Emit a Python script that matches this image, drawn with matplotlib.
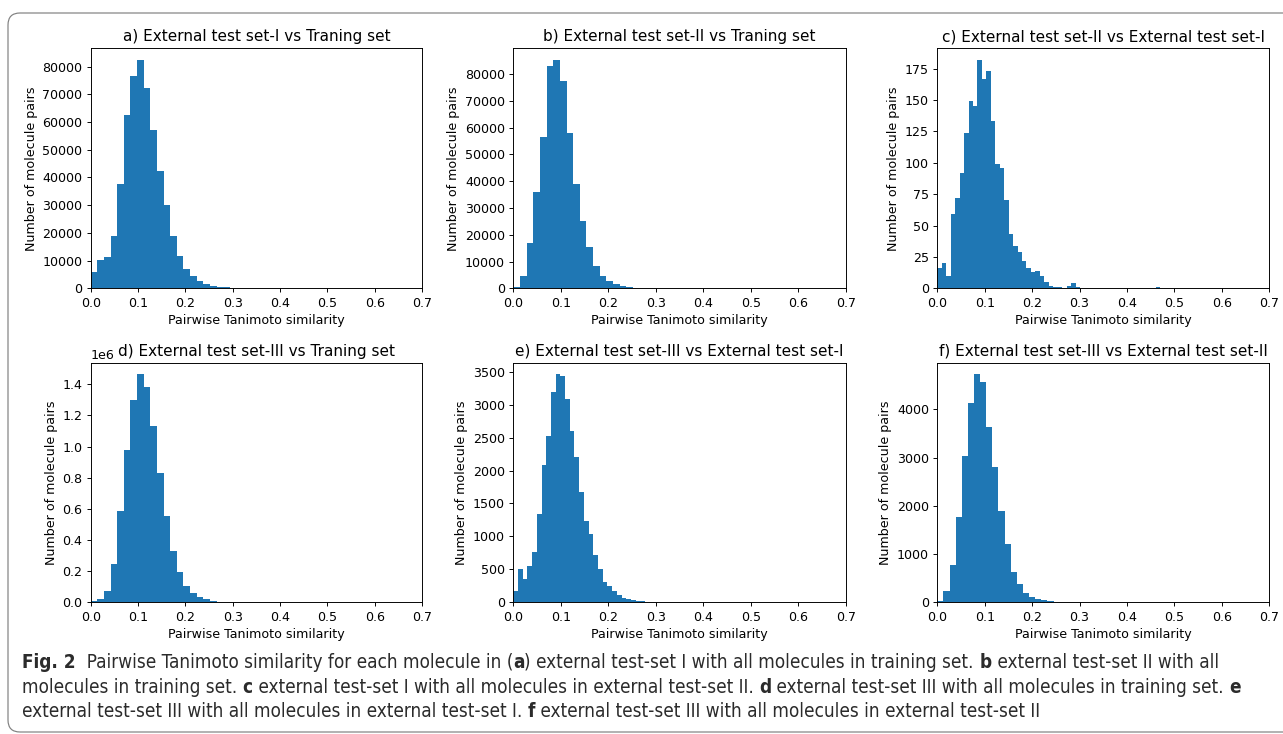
import numpy as np
import matplotlib.pyplot as plt
from matplotlib.patches import FancyBboxPatch

W, H, DPI = 1283, 734, 85

# histogram counts, one list per panel
counts_a = [6000, 10200, 11300, 18800, 37500, 62700, 76700, 82500, 72400, 57000,
            42200, 30000, 18800, 11600, 7000, 4400, 2800, 1600, 900, 500,
            350, 250, 180, 130, 100, 80, 60, 50, 40, 35,
            30, 25, 20, 18, 15, 13, 12, 10, 9, 8,
            7, 6, 5, 5, 4, 4, 3, 3, 2, 2]
counts_b = [400, 4600, 17000, 35900, 56700, 83100, 85400, 77500, 58200, 38800,
            25100, 15400, 8300, 4600, 2700, 1600, 900, 500, 250, 150,
            100, 70, 50, 40, 30, 25, 20, 15, 12, 10,
            8, 7, 6, 5, 4, 4, 3, 3, 2, 2,
            2, 1, 1, 1, 1, 1, 1, 1, 1, 1]
counts_c = [16, 20, 10, 59, 72, 92, 124, 149, 145, 182,
            167, 173, 133, 99, 96, 70, 43, 34, 29, 22,
            16, 13, 14, 10, 5, 2, 1, 1, 0, 2,
            4, 1, 0, 0, 0, 0, 0, 0, 0, 0,
            0, 0, 0, 0, 0, 0, 0, 0, 0, 1,
            0, 0, 0, 0, 0, 0, 0, 0, 0, 0,
            0, 0, 0, 0, 0, 0, 0, 0, 0, 0,
            0, 0, 0, 0]
counts_d = [8000, 22000, 74000, 246000, 586000, 977000, 1298000, 1465000, 1381000, 1131000,
            830000, 555000, 330000, 195000, 106000, 61000, 35000, 18000, 10000, 5000,
            3000, 2000, 1500, 1000, 800, 600, 500, 400, 300, 250,
            200, 150, 120, 100, 80, 60, 50, 40, 30, 25,
            20, 15, 10, 8, 6, 5, 4, 3, 2, 1]
counts_e = [177, 506, 354, 551, 763, 1340, 2083, 2523, 3190, 3463,
            3433, 3084, 2604, 2204, 1673, 1234, 1036, 718, 506, 308,
            243, 177, 116, 66, 51, 35, 20, 15, 10, 8,
            6, 5, 4, 3, 3, 2, 2, 1, 1, 1,
            1, 1, 1, 1, 1, 1, 1, 1, 1, 1,
            1, 1, 1, 1, 1, 1, 1, 1, 1, 1,
            1, 1, 1, 1, 1, 1, 1, 1, 1, 1, 1]
counts_f = [28, 242, 774, 1769, 3033, 4131, 4732, 4566, 3634, 2805,
            1893, 1209, 636, 380, 193, 110, 69, 41, 28, 14,
            7, 5, 4, 3, 2, 2, 1, 1, 1, 1,
            1, 1, 1, 1, 1, 1, 1, 1, 1, 1,
            1, 1, 1, 1, 1, 1, 1, 1, 1, 1, 1, 1, 1, 1]

bin_widths = [0.014, 0.014, 0.0094, 0.014, 0.0099, 0.0129]

titles = ['a) External test set-I vs Traning set',
          'b) External test set-II vs Traning set',
          'c) External test set-II vs External test set-I',
          'd) External test set-III vs Traning set',
          'e) External test set-III vs External test set-I',
          'f) External test set-III vs External test set-II']

all_counts = [counts_a, counts_b, counts_c, counts_d, counts_e, counts_f]

plt.rcParams['font.size'] = 10.7
plt.rcParams['axes.titlesize'] = 12.9

fig = plt.figure(figsize=(W / DPI, H / DPI), dpi=DPI)

# axes boxes in pixels: left, top, right, bottom
lefts = [90.7, 513.3, 937.3]
rights = [422.0, 846.0, 1269.3]
tops = [48.3, 362.7]
bottoms = [288.3, 602.3]

for i, (cnt, bw, ttl) in enumerate(zip(all_counts, bin_widths, titles)):
    r, c = divmod(i, 3)
    ax = fig.add_axes([lefts[c] / W, 1 - bottoms[r] / H,
                       (rights[c] - lefts[c]) / W, (bottoms[r] - tops[r]) / H])
    edges = np.arange(len(cnt) + 1) * bw
    centers = (edges[:-1] + edges[1:]) / 2
    ax.hist(centers, bins=edges, weights=cnt, color='#1f77b4')
    ax.set_xlim(0, 0.7)
    ax.set_title(ttl)
    ax.set_xlabel('Pairwise Tanimoto similarity')
    ax.set_ylabel('Number of molecule pairs')

# rounded frame around the whole figure
frame = FancyBboxPatch((8, 2), 1300, 719, boxstyle='round,pad=0,rounding_size=12',
                       transform=None, fill=False, edgecolor='#808080', linewidth=1.0)
fig.patches.append(frame)

# caption with bold letters
caption_lines = [
    [('Fig. 2', True), ('  Pairwise Tanimoto similarity for each molecule in (', False), ('a', True),
     (') external test-set I with all molecules in training set. ', False), ('b', True),
     (' external test-set II with all', False)],
    [('molecules in training set. ', False), ('c', True),
     (' external test-set I with all molecules in external test-set II. ', False), ('d', True),
     (' external test-set III with all molecules in training set. ', False), ('e', True)],
    [('external test-set III with all molecules in external test-set I. ', False), ('f', True),
     (' external test-set III with all molecules in external test-set II', False)],
]
line_y = [668, 693, 717]
cap_kw = dict(family='DejaVu Sans', fontstretch='condensed', color='#2b2b2b', va='baseline')

renderer = fig.canvas.get_renderer()


def line_width(segs, size):
    total = 0
    for txt, bold in segs:
        t = fig.text(0, 0, txt, fontsize=size, fontweight='bold' if bold else 'normal', **cap_kw)
        total += t.get_window_extent(renderer).width
        t.remove()
    return total


# scale the caption so the first two lines end about where they do in the reference
s1 = 10.0 * (1205 - 22) / line_width(caption_lines[0], 10.0)
s2 = 10.0 * (1265 - 22) / line_width(caption_lines[1], 10.0)
cap_size = (s1 + s2) / 2

for segs, y in zip(caption_lines, line_y):
    x = 22
    for txt, bold in segs:
        t = fig.text(x / W, 1 - y / H, txt, fontsize=cap_size,
                     fontweight='bold' if bold else 'normal', **cap_kw)
        x += t.get_window_extent(renderer).width

fig.savefig('out.png', dpi=DPI)
